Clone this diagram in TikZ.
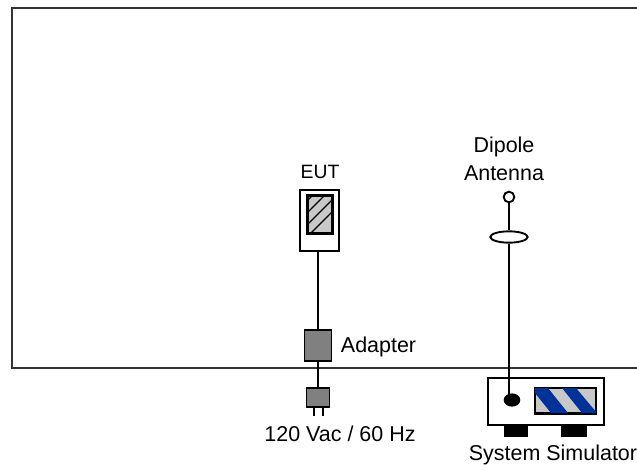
\documentclass[tikz,border=0pt]{standalone}
\usepackage{fontspec}
\setmainfont{Liberation Sans}
\usetikzlibrary{shapes.geometric}
\definecolor{screenblue}{HTML}{003399}
\definecolor{screengray}{HTML}{C8C8C8}
\definecolor{adaptergray}{HTML}{808080}
\tikzset{
  unitbox/.style={draw, rectangle, inner sep=0pt, fill=white},
  plugbox/.style={draw, rectangle, inner sep=0pt, fill=adaptergray},
  footbox/.style={draw, rectangle, inner sep=0pt, fill=black},
  label/.style={inner sep=0pt, align=center, font=\fontsize{16.1}{21}\selectfont},
}
\begin{document}
\begin{tikzpicture}[x=0.75pt, y=-0.75pt, line width=1.4pt]
    \useasboundingbox (0,0) rectangle (637,469);
    % Chamber
    \draw[black!80] (637,8) -- (12,8) -- (12,368) -- (637,368);

    % EUT
    \node[label, font=\fontsize{14.5}{21}\selectfont] (eutlabel) at (320,172) {EUT};
    \node[unitbox, minimum width=29.25pt, minimum height=45.75pt] (eut) at (319.5,220.5) {};
    \node[draw, rectangle, inner sep=0pt, fill=screengray, minimum width=18pt, minimum height=27.75pt] (eutscreen) at (320,214.5) {};
    \begin{scope}
        \clip (308,196) rectangle (332,233);
        \foreach \s in {-20,-8,...,40} {
            \draw[line width=0.9pt] (308,\s+196) -- (332,\s+196-24);
        }
    \end{scope}
    \draw[line width=1.2pt] (eutscreen.south west) rectangle (eutscreen.north east);

    % Adapter and plug
    \node[plugbox, minimum width=20.25pt, minimum height=23.25pt] (adapter) at (318,345.5) {};
    \node[label, anchor=west] (adapterlabel) at (340,347) {Adapter};
    \node[plugbox, minimum width=17.25pt, minimum height=14.25pt] (plug) at (318,397.5) {};
    \node[label] (mainslabel) at (340,434) {120 Vac / 60 Hz};
    \coordinate (pinA) at (314,416);
    \coordinate (pinB) at (323,416);
    \draw (eut.south -| adapter) -- (adapter);
    \draw (adapter) -- (plug);
    \draw[line width=1pt] (plug.south -| pinA) -- (pinA);
    \draw[line width=1pt] (plug.south -| pinB) -- (pinB);

    % Antenna
    \node[label] (antennalabel) at (504,159) {Dipole\\Antenna};
    \node[draw, circle, inner sep=0pt, minimum size=8pt] (tip) at (509,197) {};
    \node[draw, ellipse, inner sep=0pt, minimum width=28pt, minimum height=8.5pt] (balun) at (509,237) {};

    % System simulator
    \node[footbox, minimum width=17.25pt, minimum height=8pt] (footL) at (516,430.5) {};
    \node[footbox, minimum width=18.75pt, minimum height=8pt] (footR) at (574,430.5) {};
    \node[unitbox, minimum width=87pt, minimum height=35.25pt] (simulator) at (546,401.5) {};
    \node[draw, ellipse, inner sep=0pt, fill=black, minimum width=11pt, minimum height=8.5pt] (port) at (512,400) {};
    \node[draw, rectangle, inner sep=0pt, fill=screengray, minimum width=45pt, minimum height=18.5pt] (display) at (565.5,400.5) {};
    \begin{scope}
        \clip (535,388) rectangle (596,413);
        \fill[screenblue] (531,388) -- (548,388) -- (568,413) -- (551,413) -- cycle;
        \fill[screenblue] (562,388) -- (576,388) -- (597,413) -- (582,413) -- cycle;
    \end{scope}
    \draw[line width=1.1pt] (display.south west) rectangle (display.north east);
    \node[label] (simulatorlabel) at (553,455) {System Simulator};
    \draw (tip) -- (balun);
    \draw (balun.south) -- (balun.south |- port);
\end{tikzpicture}
\end{document}
